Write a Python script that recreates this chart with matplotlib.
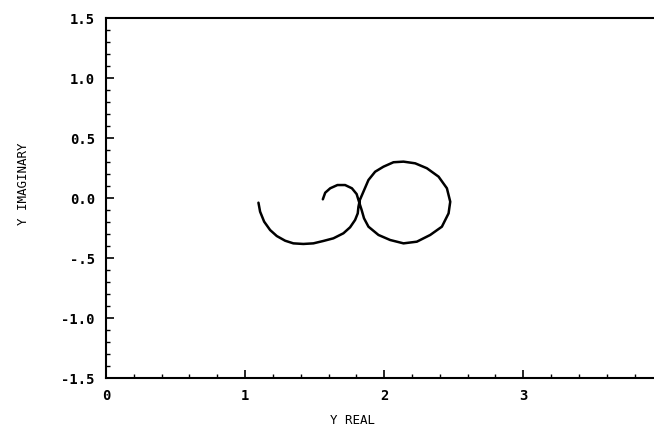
import numpy as np
import matplotlib.pyplot as plt
from matplotlib.ticker import MultipleLocator

# Nyquist-type trace: real part / imaginary part
y_real = [1.096, 1.108, 1.137, 1.180, 1.228, 1.288, 1.347, 1.419, 1.491, 1.563,
          1.635, 1.707, 1.755, 1.791, 1.810, 1.815, 1.825, 1.851, 1.887, 1.935,
          1.995, 2.067, 2.139, 2.223, 2.307, 2.391, 2.451, 2.475, 2.463, 2.415,
          2.331, 2.235, 2.139, 2.043, 1.959, 1.887, 1.855, 1.838, 1.822, 1.802,
          1.768, 1.719, 1.664, 1.612, 1.576, 1.559]
y_imag = [-0.039, -0.114, -0.197, -0.267, -0.317, -0.356, -0.378, -0.383, -0.378, -0.358,
          -0.336, -0.294, -0.244, -0.183, -0.128, -0.073, -0.017, 0.053, 0.150, 0.219,
          0.261, 0.298, 0.303, 0.289, 0.248, 0.178, 0.081, -0.031, -0.128, -0.239,
          -0.308, -0.364, -0.378, -0.350, -0.308, -0.239, -0.169, -0.100, -0.042, 0.033,
          0.081, 0.108, 0.108, 0.081, 0.044, -0.011]

yticks = [-1.5, -1.0, -0.5, 0.0, 0.5, 1.0, 1.5]
ytick_labels = ["-1.5", "-1.0", "-.5", "0.0", "0.5", "1.0", "1.5"]
xticks = [0, 1, 2, 3]
xtick_labels = ["0", "1", "2", "3"]

fig = plt.figure(figsize=(6.54, 4.40), dpi=100)
ax = fig.add_axes([106 / 654, 1 - 378 / 440, 548 / 654, 360 / 440])

ax.plot(y_real, y_imag, color="black", lw=1.8, solid_capstyle="round", solid_joinstyle="round")

ax.set_xlim(0, 3.94)
ax.set_ylim(-1.5, 1.5)
ax.set_xticks(xticks)
ax.set_xticklabels(xtick_labels, fontfamily="DejaVu Sans Mono", fontweight="bold", fontsize=10)
ax.set_yticks(yticks)
ax.set_yticklabels(ytick_labels, fontfamily="DejaVu Sans Mono", fontweight="bold", fontsize=10)
ax.xaxis.set_minor_locator(MultipleLocator(0.2))
ax.yaxis.set_minor_locator(MultipleLocator(0.1))
ax.tick_params(which="major", direction="in", length=6, width=1.2, pad=8)
ax.tick_params(which="minor", direction="in", length=3, width=1.0)
ax.tick_params(top=False, right=False)
ax.spines["right"].set_visible(False)
for s in ["left", "bottom", "top"]:
    ax.spines[s].set_linewidth(1.5)

ax.set_xlabel("Y REAL", fontfamily="DejaVu Sans Mono", fontsize=9)
ax.set_ylabel("Y IMAGINARY", fontfamily="DejaVu Sans Mono", fontsize=9)
ax.xaxis.set_label_coords(0.45, -0.10)
ax.yaxis.set_label_coords(-0.139, 0.54)

plt.savefig("out.png", dpi=100)
